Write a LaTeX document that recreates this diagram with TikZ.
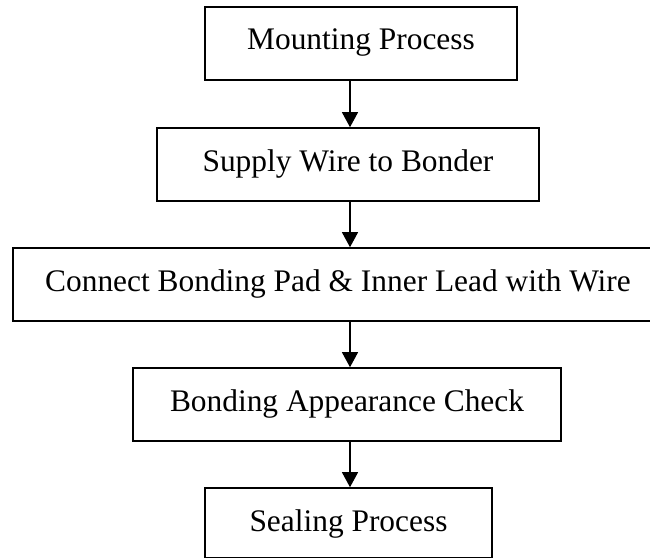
\documentclass[tikz,border=0pt]{standalone}
\usepackage{fontspec}
\setmainfont{Liberation Serif}
\usetikzlibrary{arrows.meta}

\tikzset{
  stepbox/.style={draw, line width=1.6pt, rectangle, inner sep=0pt,
    text height=43pt, text depth=30pt, font=\fontsize{31.4}{36}\selectfont},
  flow/.style={line width=1.2pt, -{Triangle[width=16pt,length=15pt]}}
}

\begin{document}
\begin{tikzpicture}[x=1pt,y=-1pt]
  \clip (0,0) rectangle (650,559);
  \fill[white] (0,0) rectangle (650,559);

  % process steps, top to bottom
  \node[stepbox, minimum width=312pt] (b1) at (361,43.5) {Mounting Process};
  \node[stepbox, minimum width=382pt] (b2) at (348,164.5) {Supply Wire to Bonder};
  \node[stepbox, minimum width=650pt] (b3) at (338,284.5) {Connect Bonding Pad \& Inner Lead with Wire};
  \node[stepbox, minimum width=428pt] (b4) at (347,404.5) {Bonding Appearance Check};
  \node[stepbox, minimum width=287pt, text depth=26.5pt] (b5) at (348.5,522.75) {Sealing Process};

  % all arrows run down one vertical line
  \coordinate (axis) at (350,0);
  \draw[flow] (b1.south -| axis) -- (b2.north -| axis);
  \draw[flow] (b2.south -| axis) -- (b3.north -| axis);
  \draw[flow] (b3.south -| axis) -- (b4.north -| axis);
  \draw[flow] (b4.south -| axis) -- (b5.north -| axis);
\end{tikzpicture}
\end{document}
